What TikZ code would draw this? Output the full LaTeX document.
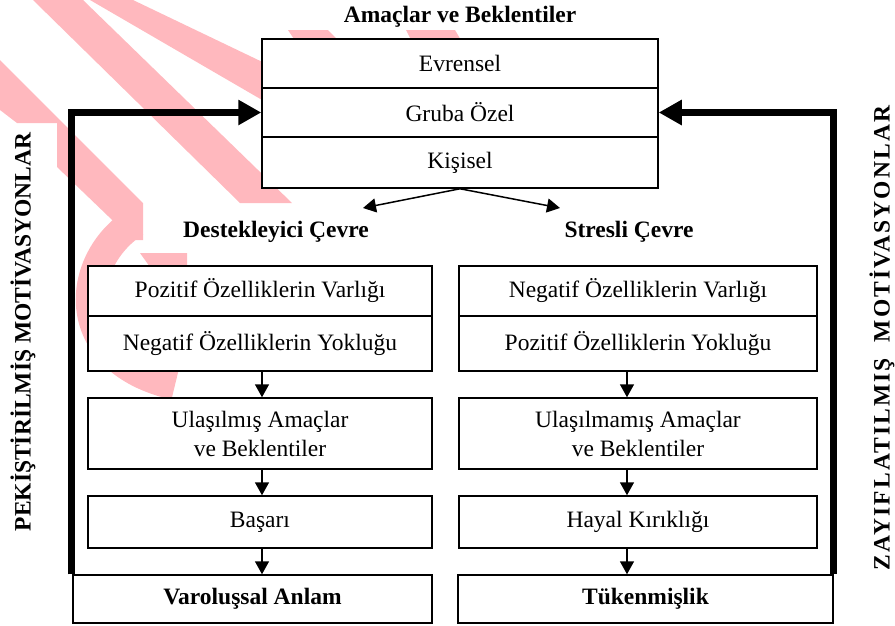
\documentclass[tikz,border=0pt]{standalone}
\usepackage{fontspec}
\setmainfont{Liberation Serif}
\usetikzlibrary{arrows.meta}
\definecolor{wmpink}{RGB}{255,184,190}
\tikzset{
  txt/.style={font=\fontsize{23.5}{29}\selectfont, inner sep=0pt, align=center},
  bold/.style={font=\fontsize{23.5}{29}\selectfont\bfseries, inner sep=0pt, align=center},
  cell/.style={txt, draw, fill=white, line width=1.5pt},
  thinarr/.style={line width=1.5pt, -{Triangle[length=13pt,width=14pt]}},
  thickarr/.style={line width=7pt, line join=miter, -{Triangle[length=23pt,width=24pt]}},
}
\begin{document}
\begin{tikzpicture}[x=1pt,y=-1pt]
\useasboundingbox (0,0) rectangle (895,625);
% watermark
\fill[wmpink] (33,0) -- (83,0) -- (292,203) -- (240,203) -- cycle;
\fill[wmpink] (90,0) -- (133,0) -- (300,80) -- (300,122) -- cycle;
\fill[wmpink] (0,60) -- (143,203) -- (143,240) -- (133,240) -- (57,167) -- (57,123) -- (17,123) -- (0,110) -- cycle;
\fill[wmpink] (288,30) -- (328,30) -- (340,42) -- (296,42) -- cycle;
\fill[wmpink] (406,30) -- (455,30) -- (462,42) -- (412,42) -- cycle;
\fill[wmpink] (140,253) -- (187,253) -- (187,267) -- (150,267) -- cycle;
\draw[wmpink, line width=30pt] (135,222) .. controls (75,260) and (65,360) .. (175,385);
% top
\node[bold] (title) at (460,17) {Amaçlar ve Beklentiler};
\node[cell, minimum width=396pt, minimum height=49pt] (ev) at (460,63.5) {Evrensel};
\node[cell, minimum width=396pt, minimum height=49pt] (gr) at (460,112.5) {Gruba Özel};
\node[cell, minimum width=396pt, minimum height=51pt] (ki) at (460,162.5) {Kişisel};
\coordinate (la) at (363,208);
\coordinate (ra) at (560,208);
\draw[thinarr] (ki.south) -- (la);
\draw[thinarr] (ki.south) -- (ra);
\node[bold] (dc) at (276,232) {Destekleyici Çevre};
\node[bold] (sc) at (629,232) {Stresli Çevre};
% left column
\node[cell, minimum width=344pt, minimum height=50pt] (lp) at (260,291) {Pozitif Özelliklerin Varlığı};
\node[cell, minimum width=344pt, minimum height=55pt] (ln) at (260,343.5) {Negatif Özelliklerin Yokluğu};
\node[cell, minimum width=344pt, minimum height=71pt] (lu) at (260,433.5) {Ulaşılmış Amaçlar\\ve Beklentiler};
\node[cell, minimum width=344pt, minimum height=52pt] (lb) at (260,522) {Başarı};
\node[cell, font=\fontsize{23.5}{29}\selectfont\bfseries, minimum width=359pt, minimum height=48pt] (lv) at (252.5,599) {Varoluşsal Anlam};
% right column
\node[cell, minimum width=358pt, minimum height=50pt] (rn) at (638,291) {Negatif Özelliklerin Varlığı};
\node[cell, minimum width=358pt, minimum height=55pt] (rp) at (638,343.5) {Pozitif Özelliklerin Yokluğu};
\node[cell, minimum width=358pt, minimum height=71pt] (ru) at (638,433.5) {Ulaşılmamış Amaçlar\\ve Beklentiler};
\node[cell, minimum width=358pt, minimum height=52pt] (rh) at (638,522) {Hayal Kırıklığı};
\node[cell, font=\fontsize{23.5}{29}\selectfont\bfseries, minimum width=375pt, minimum height=48pt] (rt) at (645.5,599) {Tükenmişlik};
% column arrows
\draw[thinarr] ([xshift=2pt]ln.south) -- ([xshift=2pt]lu.north);
\draw[thinarr] ([xshift=2pt]lu.south) -- ([xshift=2pt]lb.north);
\draw[thinarr] ([xshift=2pt]lb.south) -- ([xshift=2pt]lb.south |- lv.north);
\draw[thinarr] ([xshift=-11pt]rp.south) -- ([xshift=-11pt]ru.north);
\draw[thinarr] ([xshift=-11pt]ru.south) -- ([xshift=-11pt]rh.north);
\draw[thinarr] ([xshift=-11pt]rh.south) -- ([xshift=-11pt]rh.south |- rt.north);
% feedback loops
\draw[thickarr] ([xshift=-1pt]lv.north west) -- ([xshift=-1pt]lv.north west |- gr.west) -- (gr.west);
\draw[thickarr] (rt.north east) -- (rt.north east |- gr.east) -- (gr.east);
% side labels
\node[bold, rotate=90] (lm) at (23,332) {PEKİŞTİRİLMİŞ MOTİVASYONLAR};
\node[bold, rotate=90] (rm) at (882,338) {\addfontfeature{LetterSpace=9}ZAYIFLATILMIŞ\ \ MOTİVASYONLAR};
\end{tikzpicture}
\end{document}
